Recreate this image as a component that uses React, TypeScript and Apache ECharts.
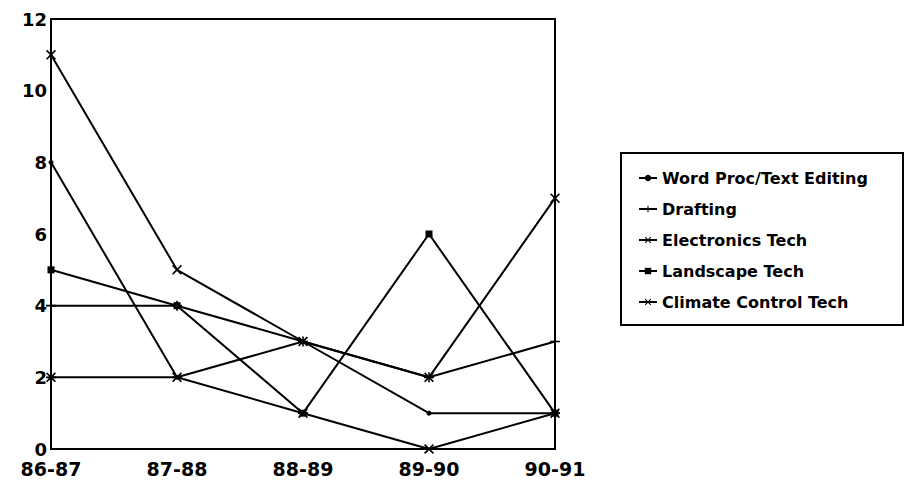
import React, { useEffect, useRef } from "react";
import * as echarts from "echarts";

const categories = ["86-87", "87-88", "88-89", "89-90", "90-91"];
const seriesNames = [
  "Word Proc/Text Editing",
  "Drafting",
  "Electronics Tech",
  "Landscape Tech",
  "Climate Control Tech",
];
const wordProc = [8, 2, 3, 1, 1];
const drafting = [4, 4, 3, 2, 3];
const electronics = [2, 2, 1, 0, 1];
const landscape = [5, 4, 1, 6, 1];
const climate = [11, 5, 3, 2, 7];
const yTicks = { min: 0, max: 12, interval: 2 };

const PLUS = "path://M4.2,0L5.8,0L5.8,4.2L10,4.2L10,5.8L5.8,5.8L5.8,10L4.2,10L4.2,5.8L0,5.8L0,4.2L4.2,4.2Z";
const XMARK = "path://M0,1.2L1.2,0L5,3.8L8.8,0L10,1.2L6.2,5L10,8.8L8.8,10L5,6.2L1.2,10L0,8.8L3.8,5Z";
const ASTER =
  "path://M0,1.2L1.2,0L5,3.8L8.8,0L10,1.2L6.2,5L10,8.8L8.8,10L5,6.2L1.2,10L0,8.8L3.8,5Z M0,4.2L10,4.2L10,5.8L0,5.8Z";

const FONT = "DejaVu Sans";

export default function App() {
  const ref = useRef<HTMLDivElement>(null);
  useEffect(() => {
    if (!ref.current) return;
    const chart = echarts.init(ref.current, undefined, { renderer: "svg" });
    const mk = (name: string, data: number[], symbol: string, size: number) => ({
      name,
      type: "line",
      data,
      symbol,
      symbolSize: size,
      showAllSymbol: true,
      lineStyle: { color: "#000", width: 2 },
      itemStyle: { color: "#000", borderWidth: 0 },
      emphasis: { disabled: true },
    });
    chart.setOption({
      animation: false,
      backgroundColor: "#fff",
      grid: { left: 51, top: 19, right: 357, bottom: 31, show: true, borderColor: "#000", borderWidth: 2 },
      xAxis: {
        type: "category",
        data: categories,
        boundaryGap: false,
        axisLine: { lineStyle: { color: "#000", width: 2 } },
        axisTick: { show: false },
        axisLabel: { color: "#000", fontFamily: FONT, fontWeight: "bold", fontSize: 19, lineHeight: 19, margin: 10 },
        splitLine: { show: false },
      },
      yAxis: {
        type: "value",
        min: yTicks.min,
        max: yTicks.max,
        interval: yTicks.interval,
        axisLine: { show: true, lineStyle: { color: "#000", width: 2 } },
        axisTick: { show: false },
        axisLabel: { color: "#000", fontFamily: FONT, fontWeight: "bold", fontSize: 18, lineHeight: 18, margin: 4 },
        splitLine: { show: false },
      },
      legend: {
        orient: "vertical",
        left: 638,
        top: 170,
        itemWidth: 18,
        itemHeight: 8,
        itemGap: 15,
        padding: 0,
        selectedMode: false,
        textStyle: { color: "#000", fontFamily: FONT, fontWeight: "bold", fontSize: 16, lineHeight: 16 },
        data: seriesNames,
      },
      graphic: [
        {
          type: "rect",
          shape: { x: 621, y: 153, width: 282, height: 172 },
          style: { fill: "none", stroke: "#000", lineWidth: 2 },
          silent: true,
        },
      ],
      series: [
        mk(seriesNames[0], wordProc, "circle", 5),
        mk(seriesNames[1], drafting, PLUS, 10),
        mk(seriesNames[2], electronics, ASTER, 10),
        mk(seriesNames[3], landscape, "rect", 7),
        mk(seriesNames[4], climate, XMARK, 10),
      ],
    });
    return () => chart.dispose();
  }, []);
  return (
    <div
      ref={ref}
      style={{ position: "fixed", left: 0, top: 0, width: 912, height: 480 }}
    />
  );
}
